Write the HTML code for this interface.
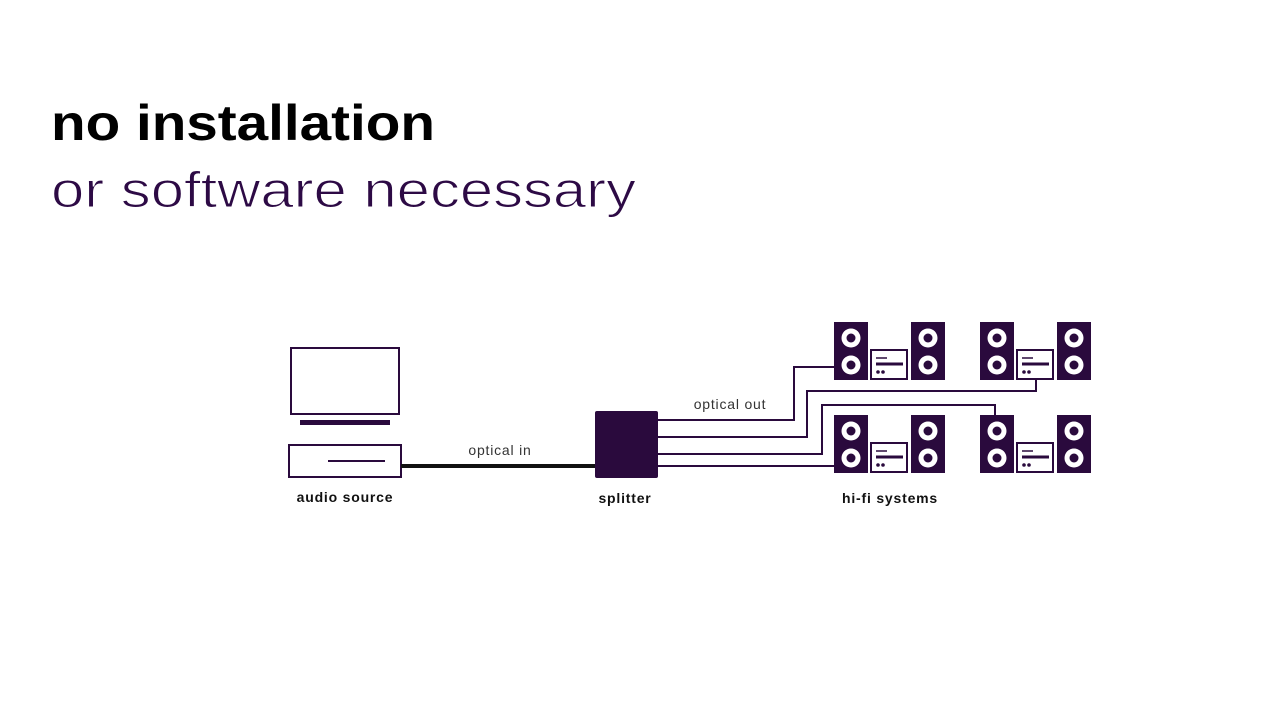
<!DOCTYPE html>
<html><head><meta charset="utf-8"><style>
html,body{margin:0;padding:0;background:#fff;width:1280px;height:720px;overflow:hidden}
</style></head><body>
<svg width="1280" height="720" viewBox="0 0 1280 720" xmlns="http://www.w3.org/2000/svg" font-family="Liberation Sans, sans-serif">
<defs>
<g id="spk">
<rect x="0" y="0" width="34" height="58" fill="#2a0a3d"/>
<circle cx="17" cy="16" r="9.5" fill="#fff"/><circle cx="17" cy="16" r="4.5" fill="#2a0a3d"/>
<circle cx="17" cy="43" r="9.5" fill="#fff"/><circle cx="17" cy="43" r="4.5" fill="#2a0a3d"/>
</g>
<g id="amp">
<rect x="1" y="1" width="36" height="29" fill="#fff" stroke="#2a0a3d" stroke-width="2"/>
<line x1="6" y1="9" x2="17" y2="9" stroke="#2a0a3d" stroke-width="1.5"/>
<line x1="6" y1="15" x2="33" y2="15" stroke="#2a0a3d" stroke-width="3"/>
<circle cx="8" cy="23" r="1.8" fill="#2a0a3d"/><circle cx="13" cy="23" r="1.8" fill="#2a0a3d"/>
</g>
<g id="sys">
<use href="#spk" x="0" y="0"/>
<use href="#amp" x="36" y="27"/>
<use href="#spk" x="77" y="0"/>
</g>
</defs>
<text x="51" y="140" font-size="50" font-weight="bold" fill="#000" textLength="384" lengthAdjust="spacingAndGlyphs">no installation</text>
<text x="51" y="207" font-size="50" fill="#2d0a45" stroke="#fff" stroke-width="1.1" textLength="585" lengthAdjust="spacingAndGlyphs">or software necessary</text>

<!-- audio source -->
<rect x="291" y="348" width="108" height="66" fill="none" stroke="#2a0a3d" stroke-width="2"/>
<rect x="300" y="420" width="90" height="5" fill="#2a0a3d"/>
<rect x="289" y="445" width="112" height="32" fill="none" stroke="#2a0a3d" stroke-width="2"/>
<line x1="328" y1="461" x2="385" y2="461" stroke="#2a0a3d" stroke-width="2"/>
<line x1="401" y1="466" x2="596" y2="466" stroke="#111" stroke-width="4"/>
<text x="500" y="455" font-size="14" fill="#333" text-anchor="middle" letter-spacing="0.8">optical in</text>
<text x="345" y="502" font-size="14" font-weight="bold" fill="#111" text-anchor="middle" letter-spacing="0.8">audio source</text>

<!-- splitter -->
<rect x="595" y="411" width="63" height="67" rx="2" fill="#2a0a3d"/>
<text x="625" y="503" font-size="14" font-weight="bold" fill="#111" text-anchor="middle" letter-spacing="0.8">splitter</text>

<!-- lines -->
<g fill="none" stroke="#2a0a3d" stroke-width="2">
<polyline points="658,420 794,420 794,367 834,367"/>
<polyline points="658,437 807,437 807,391 1036,391 1036,380"/>
<polyline points="658,454 822,454 822,405 995,405 995,415"/>
<polyline points="658,466 834,466"/>
</g>
<text x="730" y="409" font-size="14" fill="#333" text-anchor="middle" letter-spacing="0.8">optical out</text>

<use href="#sys" x="834" y="322"/>
<use href="#sys" x="980" y="322"/>
<use href="#sys" x="834" y="415"/>
<use href="#sys" x="980" y="415"/>
<text x="890" y="503" font-size="14" font-weight="bold" fill="#111" text-anchor="middle" letter-spacing="0.8">hi-fi systems</text>
</svg>
</body></html>
